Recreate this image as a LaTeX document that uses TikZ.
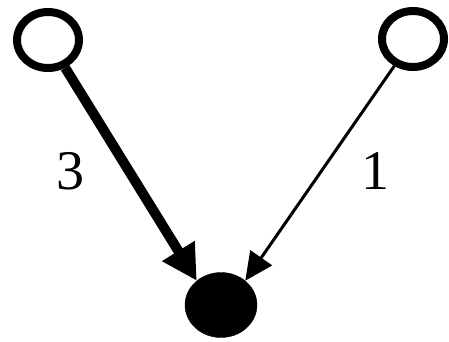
\documentclass[tikz,border=0pt]{standalone}
\usepackage{fontspec}
\setmainfont{Liberation Serif}
\usetikzlibrary{arrows.meta,positioning,shapes.geometric}

\begin{document}
\begin{tikzpicture}[x=1pt, y=-1pt,
    open/.style={draw,ellipse,line width=8pt,minimum width=62pt,minimum height=56pt,inner sep=0pt},
    sink/.style={draw,ellipse,fill=black,minimum width=72pt,minimum height=65pt,inner sep=0pt},
    wlabel/.style={font=\fontsize{56}{60}\selectfont,inner sep=0pt}]
        \useasboundingbox (0,0) rectangle (449,341);
        \node[open] (srcL) at (48,40) {};
        \node[open] (srcR) at (413,39) {};
        \node[sink] (dst) at (221,305) {};
        \draw[-{Triangle[length=35pt,width=36pt]},line width=10pt] (srcL)--(dst.135);
        \draw[-{Triangle[length=28pt,width=26pt]},line width=3pt] (srcR)--(dst.45);
        \node[wlabel] (wL) at (70,171) {3};
        \node[wlabel] (wR) at (375,171) {1};
      \end{tikzpicture}
\end{document}
